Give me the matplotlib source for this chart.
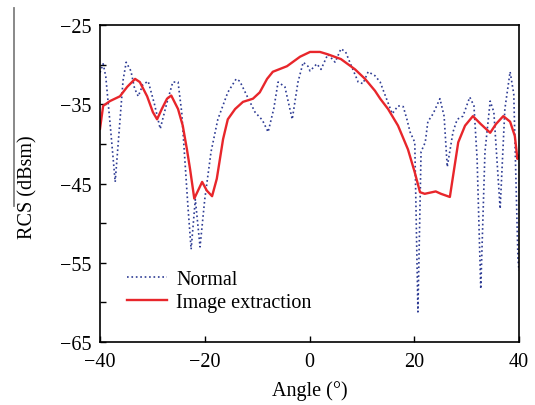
import matplotlib

matplotlib.use("Agg")
import matplotlib.pyplot as plt
from matplotlib.lines import Line2D

plt.rcParams["font.family"] = ["Liberation Serif", "DejaVu Serif"]

# "Normal" RCS curve (dotted blue)
normal_angle = [-40.0, -39.4, -38.9, -38.0, -37.1, -36.3, -35.6, -35.0, -34.1, -33.4,
                -32.7, -31.8, -30.8, -29.6, -28.5, -27.3, -26.1, -25.1, -24.4, -23.8,
                -23.2, -22.6, -21.8, -20.9, -20.0, -18.8, -17.5, -15.6, -14.0, -13.3,
                -11.9, -10.4, -9.0, -7.9, -6.8, -6.0, -4.7, -3.3, -2.2, -1.2,
                -0.3, 0.1, 1.4, 2.2, 3.5, 4.9, 6.0, 6.9, 7.7, 9.3,
                10.2, 11.2, 12.5, 13.5, 14.0, 15.8, 16.9, 17.9, 18.6, 19.2,
                20.1, 20.7, 21.3, 22.1, 22.6, 23.6, 24.9, 25.7, 26.3, 27.4,
                28.2, 29.3, 30.6, 31.4, 32.0, 32.7, 33.5, 34.5, 35.2, 36.4,
                37.3, 38.3, 39.0, 39.8, 40.0]
normal_rcs = [-31.0, -29.9, -31.5, -38.0, -44.8, -38.0, -32.0, -29.7, -30.8, -33.0,
              -34.0, -32.5, -32.1, -35.0, -38.1, -35.0, -32.2, -32.2, -36.0, -42.0,
              -48.0, -53.3, -47.0, -53.0, -47.0, -41.0, -36.9, -33.5, -31.8, -32.1,
              -34.0, -36.0, -37.0, -38.5, -35.5, -32.2, -32.8, -36.9, -32.2, -29.7,
              -30.2, -30.8, -29.9, -30.6, -28.7, -29.7, -28.0, -28.4, -29.7, -32.2,
              -32.4, -30.9, -31.4, -32.2, -33.1, -36.2, -35.2, -35.3, -36.9, -38.5,
              -39.8, -61.2, -41.0, -39.8, -37.2, -36.2, -34.3, -36.5, -42.9, -38.5,
              -36.9, -36.5, -34.1, -35.2, -41.9, -58.3, -41.0, -34.6, -36.0, -48.2,
              -35.6, -30.9, -33.7, -54.5, -56.0]

# "Image extraction" RCS curve (solid red)
image_angle = [-40.0, -39.4, -38.1, -36.2, -34.8, -33.3, -32.4, -31.0, -29.9, -29.1,
               -28.2, -27.2, -26.4, -25.1, -24.2, -23.4, -22.8, -22.0, -20.5, -19.6,
               -18.6, -17.7, -16.5, -15.6, -14.2, -12.7, -10.8, -9.5, -8.1, -7.0,
               -4.3, -1.8, 0.1, 2.0, 3.5, 6.0, 8.7, 10.6, 12.5, 13.5,
               15.0, 16.9, 18.8, 20.1, 21.1, 22.0, 24.1, 25.1, 26.8, 27.4,
               28.4, 29.7, 31.2, 32.7, 34.5, 35.6, 37.0, 38.3, 39.2, 39.7,
               40.0]
image_rcs = [-38.1, -35.2, -34.6, -34.0, -32.8, -31.8, -32.2, -34.0, -36.0, -36.9,
             -35.6, -34.3, -33.9, -35.6, -37.7, -40.7, -43.2, -46.9, -44.8, -45.9,
             -46.6, -44.4, -39.4, -36.9, -35.6, -34.7, -34.3, -33.5, -31.8, -30.9,
             -30.2, -29.0, -28.4, -28.4, -28.7, -29.3, -30.6, -31.8, -33.3, -34.3,
             -35.6, -37.7, -40.7, -43.6, -46.1, -46.3, -46.0, -46.3, -46.7, -44.1,
             -39.8, -37.7, -36.5, -37.5, -38.6, -37.5, -36.5, -37.2, -39.0, -41.9,
             -41.5]

x_ticks = [-40, -20, 0, 20, 40]
y_ticks = [-65, -60, -55, -50, -45, -40, -35, -30, -25]
y_ticklabels = ["\u221265", "", "\u221255", "", "\u221245", "", "\u221235", "", "\u221225"]

FS = 14.5

fig = plt.figure(figsize=(5.35, 4.06), dpi=100)
ax = fig.add_axes([100 / 535, 1 - 343 / 406, 419 / 535, 317 / 406])

ax.plot(normal_angle, normal_rcs, linestyle=":", color="#2e3c94", linewidth=1.2,
        label="Normal")
ax.plot(image_angle, image_rcs, linestyle="-", color="#e8262b", linewidth=1.7,
        label="Image extraction")

ax.set_xlim(-40, 40)
ax.set_ylim(-65, -25)
ax.set_xticks(x_ticks)
ax.set_xticklabels([f"{t}".replace("-", "\u2212") for t in x_ticks], fontsize=FS)
ax.set_yticks(y_ticks)
ax.set_yticklabels(y_ticklabels, fontsize=FS)
ax.tick_params(axis="both", direction="in", length=4.5, width=1.0, color="black")
ax.tick_params(axis="x", pad=7)
ax.tick_params(axis="y", pad=6)

for sp in ax.spines.values():
    sp.set_linewidth(1.2)
    sp.set_color("black")

ax.set_xlabel("Angle (\u00b0)", fontsize=FS, labelpad=7)
ax.set_ylabel("RCS (dBsm)", fontsize=FS)
ax.yaxis.set_label_coords(-0.15, 0.49)

ax.legend(loc="upper left", bbox_to_anchor=(0.064, 0.228), frameon=False,
          fontsize=FS, handlelength=2.0, handletextpad=0.45, labelspacing=0.2,
          borderpad=0, borderaxespad=0)

# thin grey rule at the far left of the figure
fig.add_artist(Line2D([14 / 535, 14 / 535], [1 - 9 / 406, 1 - 207 / 406],
                      transform=fig.transFigure, color="#7f7f7f", linewidth=1.3))

fig.savefig("out.png", dpi=100)
